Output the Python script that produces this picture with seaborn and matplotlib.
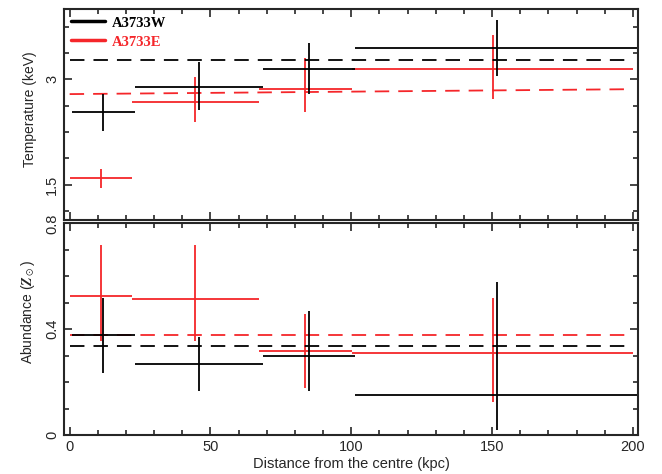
import numpy as np
import pandas as pd
import matplotlib
matplotlib.use('Agg')
import matplotlib.pyplot as plt
from matplotlib.ticker import MultipleLocator
from matplotlib.lines import Line2D
import seaborn as sns

sns.set_style('ticks')
plt.rcParams['font.family'] = ['Liberation Sans', 'DejaVu Sans']
plt.rcParams['mathtext.fontset'] = 'stix'

# annuli (kpc)
w_rin = [0.7, 23.3, 68.5, 101.5]
w_rout = [23.3, 68.5, 101.5, 201.7]
e_rin = [0.0, 22.2, 67.1, 100.2]
e_rout = [22.2, 67.1, 100.2, 200.2]

# temperature (keV)
w_kt = [2.53, 2.89, 3.15, 3.44]
w_kt_lo = [2.27, 2.57, 2.79, 3.05]
w_kt_hi = [2.79, 3.24, 3.52, 3.84]
e_kt = [1.59, 2.68, 2.86, 3.14]
e_kt_lo = [1.46, 2.40, 2.53, 2.72]
e_kt_hi = [1.72, 3.04, 3.30, 3.63]

# abundance (solar)
w_z = [0.378, 0.267, 0.299, 0.151]
w_z_lo = [0.233, 0.168, 0.168, 0.019]
w_z_hi = [0.517, 0.370, 0.470, 0.578]
e_z = [0.527, 0.516, 0.319, 0.309]
e_z_lo = [0.356, 0.356, 0.177, 0.126]
e_z_hi = [0.719, 0.719, 0.457, 0.517]

# average values (dashed)
avg_x = [0, 200]
w_kt_avg = [3.28, 3.28]
e_kt_avg = [2.79, 2.86]
w_z_avg = [0.338, 0.338]
e_z_avg = [0.378, 0.378]

red = '#f5262a'
blk = 'black'

def bars(ax, rin, rout, val, lo, hi, col):
    rin = np.array(rin); rout = np.array(rout)
    val = np.array(val)
    xc = (rin + rout) / 2
    ax.errorbar(xc, val, xerr=(rout - rin) / 2,
                yerr=[val - np.array(lo), np.array(hi) - val],
                fmt='none', ecolor=col, elinewidth=1.3, capsize=0)

fig = plt.figure(figsize=(6.62, 4.74), dpi=100)
ax1 = fig.add_axes([0.0967, 0.5359, 0.8678, 0.4451])
ax2 = fig.add_axes([0.0967, 0.0823, 0.8678, 0.4462])

dash = (0, (8, 5))
bars(ax1, e_rin, e_rout, e_kt, e_kt_lo, e_kt_hi, red)
sns.lineplot(x=avg_x, y=e_kt_avg, ax=ax1, color=red, lw=1.3, linestyle=dash)
bars(ax1, w_rin, w_rout, w_kt, w_kt_lo, w_kt_hi, blk)
sns.lineplot(x=avg_x, y=w_kt_avg, ax=ax1, color=blk, lw=1.3, linestyle=dash)

bars(ax2, e_rin, e_rout, e_z, e_z_lo, e_z_hi, red)
sns.lineplot(x=avg_x, y=e_z_avg, ax=ax2, color=red, lw=1.3, linestyle=dash)
bars(ax2, w_rin, w_rout, w_z, w_z_lo, w_z_hi, blk)
sns.lineplot(x=avg_x, y=w_z_avg, ax=ax2, color=blk, lw=1.3, linestyle=dash)

for ax in (ax1, ax2):
    ax.set_xlim(-2, 202)
    ax.xaxis.set_major_locator(MultipleLocator(50))
    ax.xaxis.set_minor_locator(MultipleLocator(10))
    ax.tick_params(which='both', direction='in', top=True, right=True,
                   labelsize=10.5, width=1.2)
    ax.tick_params(which='major', length=6)
    ax.tick_params(which='minor', length=3.5)
    for s in ax.spines.values():
        s.set_linewidth(1.5)

ax1.set_ylim(1, 4)
ax1.yaxis.set_minor_locator(MultipleLocator(0.375))
ax1.set_yticks([1.5, 3])
ax1.set_yticklabels(['1.5', '3'], rotation=90, va='center')
ax1.set_xticklabels([])
ax1.set_ylabel('Temperature (keV)', fontsize=10)
ax1.yaxis.set_label_coords(-0.047, 0.527)

ax2.set_ylim(0, 0.8)
ax2.yaxis.set_minor_locator(MultipleLocator(0.1))
ax2.set_yticks([0, 0.4, 0.8])
ax2.set_yticklabels(['0', '0.4', '0.8'], rotation=90, va='center')
ax2.set_ylabel(r'Abundance ($\mathbfit{Z}_\odot$)', fontsize=10)
ax2.yaxis.set_label_coords(-0.047, 0.58)
ax2.set_xlabel('Distance from the centre (kpc)', fontsize=10.5, labelpad=2)

handles = [Line2D([], [], color=blk, lw=2.5), Line2D([], [], color=red, lw=2.5)]
leg = ax1.legend(handles, ['A3733W', 'A3733E'], loc='upper left', frameon=False,
                 prop={'family': 'Liberation Serif', 'weight': 'bold', 'size': 10.5},
                 handlelength=2.3, handletextpad=0.5, labelspacing=0.4,
                 borderaxespad=0.2, borderpad=0.3)
for t, c in zip(leg.get_texts(), [blk, red]):
    t.set_color(c)

fig.savefig('out.png', dpi=100)
